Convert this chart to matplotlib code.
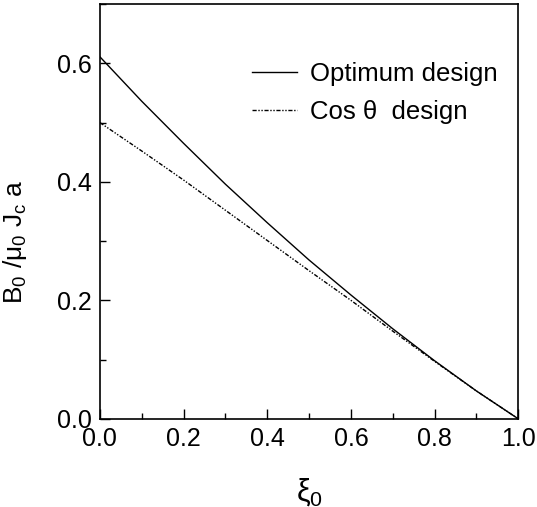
import matplotlib
matplotlib.use('Agg')
import matplotlib.pyplot as plt
from matplotlib.ticker import MultipleLocator

plt.rcParams['font.family'] = ['Liberation Sans', 'DejaVu Sans']
plt.rcParams['mathtext.fontset'] = 'custom'
plt.rcParams['mathtext.rm'] = 'Liberation Sans'
plt.rcParams['mathtext.it'] = 'Liberation Sans'

xi = [0.0, 0.1, 0.2, 0.3, 0.4, 0.5, 0.6, 0.7, 0.8, 0.9, 1.0]
b_optimum = [0.611, 0.536, 0.465, 0.396, 0.331, 0.268, 0.209, 0.152, 0.098, 0.047, 0.0]
b_cos = [0.500, 0.452, 0.403, 0.352, 0.301, 0.250, 0.200, 0.148, 0.097, 0.047, 0.0]

labels = ['Optimum design', 'Cos \u03b8  design']

fig = plt.figure(figsize = (5.37, 5.07), dpi = 100)
ax = fig.add_axes([0.186, 0.174, 0.779, 0.818])

ax.plot(xi, b_optimum, color = 'black', lw = 1.0, label = labels[0])
ax.plot(xi, b_cos, color = 'black', lw = 1.0, dashes = (3, 1.2, 1, 1.2, 1, 1.2), label = labels[1])

ax.set_xlim(0, 1.0)
ax.set_ylim(0, 0.7)
ax.xaxis.set_major_locator(MultipleLocator(0.2))
ax.xaxis.set_minor_locator(MultipleLocator(0.1))
ax.yaxis.set_major_locator(MultipleLocator(0.2))
ax.yaxis.set_minor_locator(MultipleLocator(0.1))
ax.tick_params(which = 'both', direction = 'in', top = False, right = False, labelsize = 18, width = 1)
ax.tick_params(which = 'major', length = 7, pad = 6)
ax.tick_params(which = 'minor', length = 4.5)
for s in ax.spines.values():
	s.set_linewidth(1.2)

ax.set_xlabel(r'$\mathregular{\xi_0}$', fontsize = 22, labelpad = 18)
ax.set_ylabel(r'B$_\mathregular{0}$ /$\mathregular{\mu_0}$ J$_\mathregular{c}$ a', fontsize = 19)
ax.yaxis.set_label_coords(-0.17, 0.427)

ax.legend(loc = 'upper left', bbox_to_anchor = (0.34, 0.885), frameon = False, fontsize = 18.5,
	handlelength = 1.75, handletextpad = 0.5, labelspacing = 0.53, borderaxespad = 0)

plt.savefig('out.png')
